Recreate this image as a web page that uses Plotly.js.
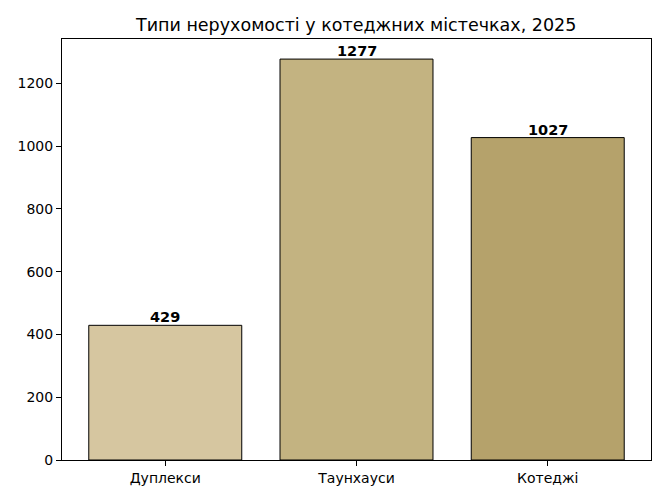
<!DOCTYPE html>
<html>
<head>
<meta charset="utf-8">
<script src="https://cdn.plot.ly/plotly-3.0.1.min.js"></script>
<style>
  body { margin: 0; background: #fff; }
  #chart { width: 667px; height: 500px; }
</style>
</head>
<body>
<div id="chart"></div>
<script>
// property types and counts
const categories = ["Дуплекси", "Таунхауси", "Котеджі"];
const counts = [429, 1277, 1027];
const barColors = ["#d6c6a0", "#c3b381", "#b5a26b"];
const yTicks = [0, 200, 400, 600, 800, 1000, 1200];

const xs = categories.map((c, i) => i);

const trace = {
  type: "bar",
  x: xs,
  y: counts,
  width: 0.8,
  marker: { color: barColors, line: { color: "#000", width: 1 } },
  hoverinfo: "x+y"
};

// value labels just above each bar
const labels = counts.map((v, i) => ({
  x: xs[i], y: v, xref: "x", yref: "y",
  text: "<b>" + v + "</b>",
  showarrow: false, yanchor: "bottom", yshift: -2,
  font: { family: "DejaVu Sans", size: 14.5, color: "#000" }
}));

const layout = {
  width: 667,
  height: 500,
  margin: { l: 62, r: 16, t: 39, b: 40 },
  paper_bgcolor: "#fff",
  plot_bgcolor: "#fff",
  font: { family: "DejaVu Sans", size: 14, color: "#000" },
  title: {
    text: "Типи нерухомості у котеджних містечках, 2025",
    font: { family: "DejaVu Sans", size: 17.5, color: "#000" },
    x: 0.534, xanchor: "center", y: 0.95, yanchor: "middle"
  },
  xaxis: {
    range: [-0.54, 2.54],
    tickvals: xs,
    ticktext: categories,
    ticks: "outside", ticklen: 5, tickcolor: "#000",
    showline: true, linecolor: "#000", linewidth: 1, mirror: true,
    showgrid: false, zeroline: false
  },
  yaxis: {
    range: [0, 1341],
    tickvals: yTicks,
    ticks: "outside", ticklen: 5, tickcolor: "#000",
    showline: true, linecolor: "#000", linewidth: 1, mirror: true,
    showgrid: false, zeroline: false
  },
  annotations: labels,
  showlegend: false,
  bargap: 0
};

Plotly.newPlot("chart", [trace], layout, { displayModeBar: false, staticPlot: true });
</script>
</body>
</html>
